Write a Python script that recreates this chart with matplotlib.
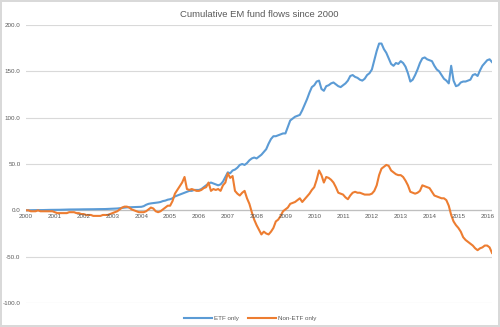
import numpy as np
import matplotlib
matplotlib.use("Agg")
import matplotlib.pyplot as plt

# monthly cumulative flows, Jan 2000 .. Mar 2016
etf_only = [
    0.0, 0.1, 0.1, 0.2, 0.2, 0.3, 0.3, 0.3, 0.4, 0.4, 0.5, 0.5,          # 2000
    0.5, 0.6, 0.6, 0.7, 0.8, 0.8, 0.9, 0.9, 1.0, 1.0, 1.0, 1.1,          # 2001
    1.1, 1.1, 1.2, 1.2, 1.2, 1.3, 1.3, 1.3, 1.4, 1.4, 1.5, 1.5,          # 2002
    1.6, 1.8, 2.0, 2.3, 2.6, 3.0, 3.2, 3.3, 3.4, 3.5, 3.6, 3.7,          # 2003
    3.8, 4.5, 6.0, 7.0, 7.5, 7.8, 8.0, 8.5, 9.0, 10.0, 10.5, 11.5,       # 2004
    12, 13, 15, 16, 17, 18, 19, 20, 21, 21, 22, 22,                      # 2005
    22, 23, 25, 27, 29, 30, 29, 28, 27, 28, 31, 36,                      # 2006
    41, 40, 43, 44, 46, 49, 50, 49, 51, 54, 56, 57,                      # 2007
    56, 58, 60, 63, 66, 72, 77, 80, 80, 81, 82, 83,                      # 2008
    83, 90, 97, 99, 101, 102, 103, 108, 114, 120, 127, 133,              # 2009
    135, 139, 140, 131, 129, 134, 135, 137, 138, 136, 134, 133,          # 2010
    135, 137, 140, 145, 146, 144, 143, 141, 140, 142, 146, 148,          # 2011
    152, 162, 172, 180, 180, 174, 170, 164, 158, 156, 159, 158,          # 2012
    161, 159, 155, 148, 139, 141, 146, 152, 159, 164, 165, 163,          # 2013
    162, 161, 156, 152, 150, 146, 142, 140, 137, 156, 140, 134,          # 2014
    135, 138, 139, 139, 140, 141, 146, 147, 145, 151, 156, 159,          # 2015
    162, 163, 160,                                                       # 2016
]

non_etf_only = [
    0, 0, -1, -1, -1, 0, -1, -1, -1, -1, -1, -1,                         # 2000
    -2, -3, -3, -3, -3, -3, -2, -2, -2, -3, -3, -4,                      # 2001
    -4, -5, -5, -5, -6, -6, -6, -6, -5, -5, -5, -4,                      # 2002
    -3, -2, -1, 1, 3, 4, 4, 3, 1, 0, -1, -2,                             # 2003
    -2, -2, -1, 1, 3, 2, -1, -2, -1, 1, 3, 5,                            # 2004
    5, 10, 18, 22, 26, 30, 36, 23, 22, 23, 22, 21,                       # 2005
    21, 22, 24, 25, 30, 21, 23, 22, 23, 21, 27, 30,                      # 2006
    40, 35, 37, 21, 18, 16, 19, 21, 13, 7, -2, -10,                      # 2007
    -16, -21, -26, -23, -25, -26, -23, -19, -12, -10, -6, -1,            # 2008
    1, 3, 7, 8, 9, 11, 13, 9, 12, 15, 18, 22,                            # 2009
    25, 33, 43, 38, 30, 36, 35, 33, 30, 25, 19, 18,                      # 2010
    17, 14, 12, 16, 19, 20, 19, 19, 18, 17, 17, 17,                      # 2011
    18, 21, 27, 38, 45, 47, 49, 48, 43, 41, 39, 38,                      # 2012
    38, 36, 32, 27, 20, 19, 18, 19, 21, 27, 26, 25,                      # 2013
    24, 20, 16, 15, 14, 13, 13, 11, 5, -5, -12, -16,                     # 2014
    -19, -23, -29, -32, -34, -36, -38, -41, -43, -41, -40, -38,          # 2015
    -38, -40, -46,                                                       # 2016
]

start_year = 2000
years = list(range(2000, 2017))
y_ticks = [-100, -50, 0, 50, 100, 150, 200]

t = start_year + np.arange(len(etf_only)) / 12.0

plt.rcParams['font.family'] = ['Liberation Sans', 'DejaVu Sans']

fig = plt.figure(figsize=(5.0, 3.27), dpi=100)
fig.patch.set_edgecolor('#d9d9d9')
fig.patch.set_linewidth(1.5)
ax = fig.add_axes([0.052, 0.0734, 0.932, 0.8501])

ax.plot(t, etf_only, color='#5b9bd5', lw=1.5, label='ETF only', zorder=3)
ax.plot(t, non_etf_only, color='#ed7d31', lw=1.5, label='Non-ETF only', zorder=3)

ax.set_xlim(start_year, t[-1])
ax.set_ylim(-100, 200)
ax.set_yticks(y_ticks)
ax.set_yticklabels(['%.1f' % v for v in y_ticks], fontsize=4.5, color='#595959')
ax.yaxis.grid(True, color='#d9d9d9', lw=0.8)
ax.tick_params(axis='y', length=0, pad=4)

# year labels sit just under the zero line
ax.set_xticks([])
for yr in years:
    ax.text(yr, -4.0, str(yr), ha='center', va='top', fontsize=4.5, color='#595959')
ax.axhline(0, color='#bfbfbf', lw=0.9, zorder=2)

for s in ax.spines.values():
    s.set_visible(False)

ax.set_title('Cumulative EM fund flows since 2000', fontsize=6.8, color='#595959', pad=6)

fig.legend(loc='lower center', bbox_to_anchor=(0.5, 0.0), ncol=2, frameon=False,
           fontsize=4.5, handlelength=4.5, labelcolor='#595959', columnspacing=1.5,
           handletextpad=0.3)

fig.savefig('out.png', dpi=100)
